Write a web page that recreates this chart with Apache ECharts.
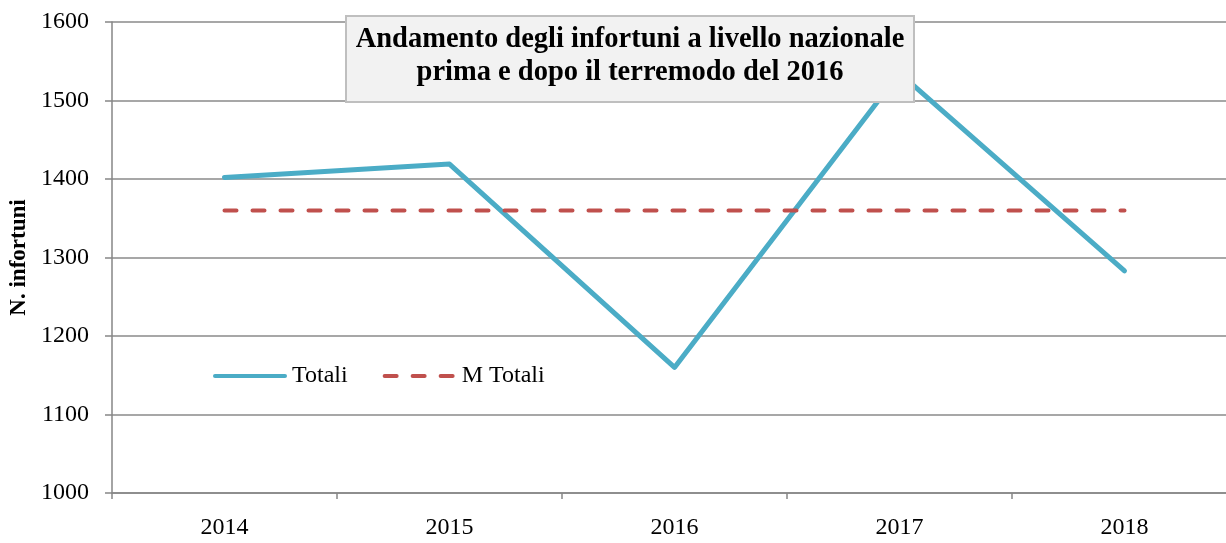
<!DOCTYPE html>
<html lang="it">
<head>
    <meta charset="utf-8">
    <title>Infortuni</title>
    <script src="https://cdn.jsdelivr.net/npm/echarts@6/dist/echarts.min.js"></script>
    <style>
        html, body { margin: 0; padding: 0; background: #fff; }
        #main { width: 1226px; height: 543px; }
    </style>
</head>
<body>
<div id="main"></div>
<script>
    // dati
    var anni = ['2014', '2015', '2016', '2017', '2018'];
    var totali = [1402, 1419, 1160, 1535, 1283];
    var mediaTotali = [1360, 1360, 1360, 1360, 1360];
    var yTicks = { min: 1000, max: 1600, step: 100 };

    var font = 'Liberation Serif, Times New Roman, serif';
    var chart = echarts.init(document.getElementById('main'));
    var option = {
        backgroundColor: '#fff',
        animation: false,
        textStyle: { fontFamily: font },
        title: {
            text: 'Andamento degli infortuni a livello nazionale\nprima e dopo il terremodo del 2016',
            left: 620,
            top: 16,
            textAlign: 'center',
            padding: [7, 10, 13, 10],
            backgroundColor: '#f2f2f2',
            borderColor: '#bfbfbf',
            borderWidth: 2,
            textStyle: {
                fontFamily: font,
                fontSize: 28.5,
                fontWeight: 'bold',
                color: '#000',
                lineHeight: 33
            },
            z: 10
        },
        legend: {
            left: 213,
            top: 364,
            padding: 0,
            itemWidth: 70,
            itemHeight: 14,
            itemGap: 35,
            itemStyle: { opacity: 0 },
            lineStyle: { width: 4 },
            textStyle: { fontFamily: font, fontSize: 24, color: '#000', padding: [0, 0, 0, 2] },
            data: ['Totali', 'M Totali']
        },
        grid: { left: 112, width: 1125, top: 22, bottom: 50, outerBoundsMode: 'none' },
        xAxis: {
            type: 'category',
            data: anni,
            boundaryGap: true,
            axisLine: { lineStyle: { color: '#868686', width: 1.5 } },
            axisTick: { show: true, length: 6, lineStyle: { color: '#868686', width: 1.5 } },
            axisLabel: { fontFamily: font, fontSize: 24, color: '#000', margin: 23 }
        },
        yAxis: {
            type: 'value',
            min: yTicks.min,
            max: yTicks.max,
            interval: yTicks.step,
            name: 'N. infortuni',
            nameLocation: 'middle',
            nameGap: 81,
            nameTextStyle: { fontFamily: font, fontSize: 23, fontWeight: 'bold', color: '#000' },
            axisLine: { show: true, lineStyle: { color: '#868686', width: 1.5 } },
            axisTick: { show: true, length: 7, lineStyle: { color: '#868686', width: 1.5 } },
            axisLabel: {
                fontFamily: font, fontSize: 24, color: '#000', margin: 23,
                formatter: function (v) { return String(v); }
            },
            splitLine: { lineStyle: { color: '#8a8a8a', width: 1.5 } }
        },
        series: [
            {
                name: 'Totali',
                type: 'line',
                data: totali,
                symbol: 'none',
                lineStyle: { color: '#4bacc6', width: 5, cap: 'round', join: 'round' },
                itemStyle: { color: '#4bacc6' }
            },
            {
                name: 'M Totali',
                type: 'line',
                data: mediaTotali,
                symbol: 'none',
                lineStyle: { color: '#c0504d', width: 4, type: [12, 16], cap: 'round' },
                itemStyle: { color: '#c0504d' }
            }
        ]
    };
    chart.setOption(option);
</script>
</body>
</html>
